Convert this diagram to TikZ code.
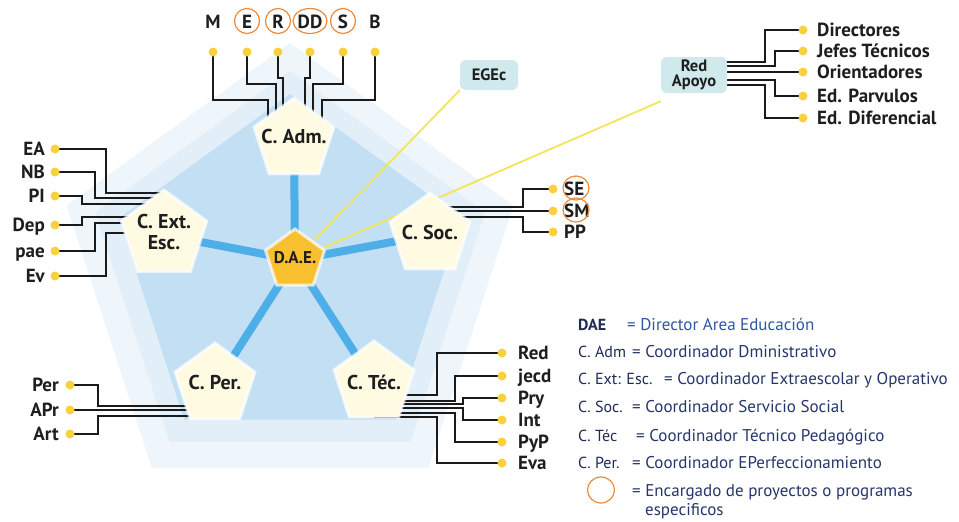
\documentclass[tikz,border=0pt]{standalone}
\usepackage{fontspec}
\setmainfont{PT Sans}
\usetikzlibrary{shapes.geometric}
\pgfdeclarelayer{bgfill}
\pgfdeclarelayer{lines}
\pgfsetlayers{bgfill,lines,main}
\definecolor{bgouter}{HTML}{EFF6FB}
\definecolor{bgmid}{HTML}{E2EFF9}
\definecolor{bginner}{HTML}{C2DFF4}
\definecolor{pentfill}{HTML}{FFFBE3}
\definecolor{daefill}{HTML}{F8BF2E}
\definecolor{spokec}{HTML}{4EAFE8}
\definecolor{ylc}{HTML}{F3E45A}
\definecolor{dotc}{HTML}{FAD03F}
\definecolor{linec}{HTML}{1A1A1A}
\definecolor{txt}{HTML}{1E1E1E}
\definecolor{ringc}{HTML}{EE8A3A}
\definecolor{boxc}{HTML}{CFE9EC}
\definecolor{navy}{HTML}{1F2B55}
\definecolor{descc}{HTML}{26366C}
\definecolor{daeblue}{HTML}{2E56A6}
\tikzset{
  bgpent/.style={regular polygon, regular polygon sides=5, inner sep=0pt, draw=none},
  pent/.style={regular polygon, regular polygon sides=5, minimum size=84pt, inner sep=0pt,
    fill=pentfill, draw=white, draw opacity=0.7, line width=3pt},
  ptxt/.style={font=\bfseries\fontsize{20}{21}\selectfont, text=txt, align=center, inner sep=0pt},
  dotn/.style={circle, fill=dotc, minimum size=9pt, inner sep=0pt},
  lab/.style={font=\bfseries\fontsize{19}{19}\selectfont, text=txt, inner sep=0pt},
  conn/.style={line width=1.4pt, draw=linec},
  spoke/.style={line width=8pt, draw=spokec},
  yline/.style={line width=1.8pt, draw=ylc},
  ringn/.style={ellipse, draw=ringc, line width=1.2pt, inner sep=0pt},
  legl/.style={font=\fontsize{16}{16}\selectfont, text=navy, anchor=base west, inner sep=0pt},
  legd/.style={font=\fontsize{17}{17}\selectfont, text=descc, anchor=base west, inner sep=0pt},
  tbox/.style={rectangle, rounded corners=6pt, fill=boxc, inner sep=2pt,
    font=\bfseries\fontsize{16.5}{15}\selectfont, text=txt, align=center}
}
\begin{document}
\begin{tikzpicture}[x=1pt,y=-1pt]
\useasboundingbox (0,0) rectangle (959,522);

% background
\begin{pgfonlayer}{bgfill}
\fill[white] (0,0) rectangle (959,522);
\node[bgpent, fill=bgouter, minimum size=470pt] (bgO) at (290,278) {};
\node[bgpent, fill=bgmid, minimum size=410pt] (bgM) at (290,276) {};
\node[bgpent, fill=bginner, minimum size=360pt] (bgI) at (290,274) {};
\end{pgfonlayer}

% pentagons
\node[pent] (cadm) at (294,140) {};
\node[pent, minimum size=90pt] (cext) at (164,235) {};
\node[pent] (csoc) at (430,235) {};
\node[pent] (cper) at (215,385) {};
\node[pent] (ctec) at (374,383) {};
\node[pent, fill=daefill, minimum size=62pt] (dae) at (295,260) {};
\node[ptxt] (cadmT) at ([yshift=4pt]cadm.center) {C. Adm.};
\node[ptxt] (cextT) at ([yshift=3pt]cext.center) {C. Ext.\\Esc.};
\node[ptxt] (csocT) at ([yshift=3pt]csoc.center) {C. Soc.};
\node[ptxt] (cperT) at ([yshift=3pt]cper.center) {C. Per.};
\node[ptxt] (ctecT) at ([yshift=1pt]ctec.center) {C. Téc.};
\node[ptxt, font=\bfseries\fontsize{17}{17}\selectfont] (daeT) at ([yshift=2pt]dae.center) {D.A.E.};

% side boxes
\node[tbox, minimum width=58pt, minimum height=30pt] (egec) at (489,75) {EGEc};
\node[tbox, minimum width=66pt, minimum height=36pt] (redap) at (694,75) {Red\\Apoyo};

% dots
\foreach \n/\x in {M/213,E/247,R/278,DD/310,S/343,B/375} \node[dotn] (d\n) at (\x,52) {};
\foreach \n/\y in {EA/149,NB/172,PI/196,Dep/225,pae/251,Ev/276} \node[dotn] (d\n) at (55,\y) {};
\foreach \n/\y in {SE/189,SM/211,PP/232} \node[dotn] (d\n) at (553,\y) {};
\foreach \n/\y in {Dir/30,Jef/51,Ori/72,Par/96,Dif/118} \node[dotn] (d\n) at (803,\y) {};
\foreach \n/\y in {Per/385,APr/410,Art/434} \node[dotn] (d\n) at (70,\y) {};
\foreach \n/\y in {Red/353,jecd/376,Pry/398,Int/420,PyP/442,Eva/463} \node[dotn] (d\n) at (502,\y) {};

\begin{pgfonlayer}{lines}
% yellow lines
\draw[yline] (dae.center) -- (egec.south west);
\draw[yline] (dae.center) -- ([yshift=-8pt]redap.south west);
% spokes
\foreach \c in {cadm,cext,csoc,cper,ctec} \draw[spoke] (dae.center) -- (\c.center);
% connectors top
\draw[conn] (dM.center) |- (268,100) -- (cadm.center -| 268,0);
\draw[conn] (dE.center) |- (276,84) -- (cadm.center -| 276,0);
\draw[conn] (dR.center) |- (283,78) -- (cadm.center -| 283,0);
\draw[conn] (dDD.center) |- (305,78) -- (cadm.center -| 305,0);
\draw[conn] (dS.center) |- (313,84) -- (cadm.center -| 313,0);
\draw[conn] (dB.center) |- (322,100) -- (cadm.center -| 322,0);
% connectors left
\draw[conn] (dEA.center) -| (106,193) -- (cext.center |- 0,193);
\draw[conn] (dNB.center) -| (95,198) -- (cext.center |- 0,198);
\draw[conn] (dPI.center) -| (82,204) -- (cext.center |- 0,204);
\draw[conn] (dDep.center) -| (82,217) -- (cext.center |- 0,217);
\draw[conn] (dpae.center) -| (95,223) -- (cext.center |- 0,223);
\draw[conn] (dEv.center) -| (106,233) -- (cext.center |- 0,233);
% connectors soc
\draw[conn] (dSE.center) -| (523,207) -- (csoc.center |- 0,207);
\draw[conn] (dSM.center) -- (csoc.center |- 0,211);
\draw[conn] (dPP.center) -| (523,217) -- (csoc.center |- 0,217);
% connectors red apoyo
\draw[conn] (dDir.center) -| (765,62) -- (redap.center |- 0,62);
\draw[conn] (dJef.center) -| (775,66) -- (redap.center |- 0,66);
\draw[conn] (dOri.center) -- (redap.center |- dOri);
\draw[conn] (dPar.center) -| (775,80) -- (redap.center |- 0,80);
\draw[conn] (dDif.center) -| (765,85) -- (redap.center |- 0,85);
% connectors per
\draw[conn] (dPer.center) -| (98,406) -- (cper.center |- 0,406);
\draw[conn] (dAPr.center) -- (cper.center |- 0,410);
\draw[conn] (dArt.center) -| (98,416) -- (cper.center |- 0,416);
% connectors tec
\draw[conn] (dRed.center) -| (437,395) -- (ctec.center |- 0,395);
\draw[conn] (djecd.center) -| (455,401) -- (ctec.center |- 0,401);
\draw[conn] (dPry.center) -| (463,404) -- (ctec.center |- 0,404);
\draw[conn] (dInt.center) -| (463,408) -- (ctec.center |- 0,408);
\draw[conn] (dPyP.center) -| (455,413) -- (ctec.center |- 0,413);
\draw[conn] (dEva.center) -| (437,417) -- (ctec.center |- 0,417);
\end{pgfonlayer}

% labels top
\foreach \n/\x in {M/213,E/247,R/278,DD/310,S/343,B/375}
  \node[lab, anchor=base] (l\n) at (\x,28) {\n};
\node[ringn, minimum width=25pt, minimum height=25pt] (rE) at (247,21) {};
\node[ringn, minimum width=25pt, minimum height=25pt] (rR) at (278,21) {};
\node[ringn, minimum width=34pt, minimum height=25pt] (rDD) at (310,21) {};
\node[ringn, minimum width=25pt, minimum height=25pt] (rS) at (343,21) {};
% labels left
\foreach \n/\y in {EA/149,NB/172,PI/196,Dep/225,pae/251,Ev/276}
  \node[lab, anchor=base east] (l\n) at (45,\y+6.5) {\n};
% labels soc
\foreach \n/\y in {SE/189,SM/211,PP/232}
  \node[lab, anchor=base west] (l\n) at (564,\y+6.5) {\n};
\node[ringn, minimum width=26pt, minimum height=24pt] (rSE) at (576,188) {};
\node[ringn, minimum width=26pt, minimum height=24pt] (rSM) at (576,210) {};
% labels red apoyo
\node[lab, anchor=base west] (lDir) at (817,36.5) {Directores};
\node[lab, anchor=base west] (lJef) at (817,57.5) {Jefes Técnicos};
\node[lab, anchor=base west] (lOri) at (817,78.5) {Orientadores};
\node[lab, anchor=base west] (lPar) at (817,102.5) {Ed. Parvulos};
\node[lab, anchor=base west] (lDif) at (817,124.5) {Ed. Diferencial};
% labels per
\foreach \n/\y in {Per/385,APr/410,Art/434}
  \node[lab, anchor=base east] (l\n) at (59,\y+6.5) {\n};
% labels tec
\foreach \n/\y in {Red/353,jecd/376,Pry/398,Int/420,PyP/442,Eva/463}
  \node[lab, anchor=base west] (l\n) at (518,\y+6.5) {\n};

% legend
\node[legl, font=\bfseries\fontsize{16}{16}\selectfont] (g1) at (578,330) {DAE};
\node[legd, text=daeblue] (g1d) at (627,330) {= Director Area Educación};
\node[legl] (g2) at (578,357) {C. Adm};
\node[legd] (g2d) at (632,357) {= Coordinador Dministrativo};
\node[legl] (g3) at (578,384) {C. Ext: Esc.};
\node[legd] (g3d) at (664,384) {= Coordinador Extraescolar y Operativo};
\node[legl] (g4) at (578,412) {C. Soc.};
\node[legd] (g4d) at (632,412) {= Coordinador Servicio Social};
\node[legl] (g5) at (578,441) {C. Téc};
\node[legd] (g5d) at (636,441) {= Coordinador Técnico Pedagógico};
\node[legl] (g6) at (578,468) {C. Per.};
\node[legd] (g6d) at (632,468) {= Coordinador EPerfeccionamiento};
\node[ringn, minimum width=27pt, minimum height=26pt] (g7) at (601,490) {};
\node[legd] (g7d) at (632,496) {= Encargado de proyectos o programas};
\node[legd] (g7e) at (645,515) {especificos};
\end{tikzpicture}
\end{document}
